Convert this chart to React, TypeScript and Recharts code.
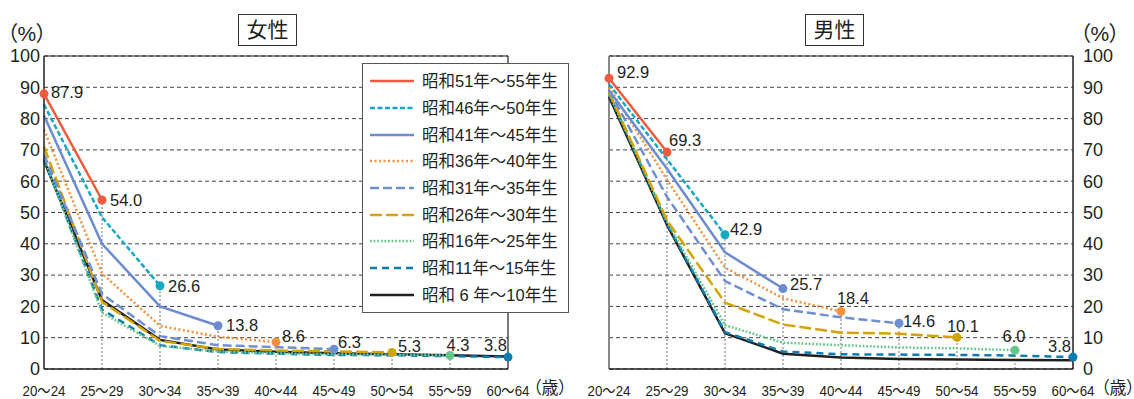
import React from "react";
import { LineChart, Line, XAxis, YAxis, CartesianGrid, ReferenceLine } from "recharts";

// age groups on the x axis
const AGES = ["20〜24", "25〜29", "30〜34", "35〜39", "40〜44", "45〜49", "50〜54", "55〜59", "60〜64"];
const Y_TICKS = [0, 10, 20, 30, 40, 50, 60, 70, 80, 90, 100];

const COHORTS = [
  "昭和51年〜55年生",
  "昭和46年〜50年生",
  "昭和41年〜45年生",
  "昭和36年〜40年生",
  "昭和31年〜35年生",
  "昭和26年〜30年生",
  "昭和16年〜25年生",
  "昭和11年〜15年生",
  "昭和 6 年〜10年生",
];

// 女性 (%)
const femaleS51 = [87.9, 54.0];
const femaleS46 = [84.5, 48.5, 26.6];
const femaleS41 = [81.0, 40.0, 20.0, 13.8];
const femaleS36 = [76.5, 30.5, 13.8, 10.3, 8.6];
const femaleS31 = [68.5, 24.0, 10.5, 7.6, 7.0, 6.3];
const femaleS26 = [71.0, 21.5, 9.0, 6.4, 5.9, 5.6, 5.3];
const femaleS16 = [67.5, 18.0, 7.4, 5.6, 5.0, 4.7, 4.6, 4.3];
const femaleS11 = [67.0, 19.0, 7.6, 5.4, 4.9, 4.5, 4.4, 4.1, 3.8];
const femaleS06 = [66.5, 22.0, 9.3, 6.2, 5.5, 5.0, 4.7, 4.4, 4.0];

// 男性 (%)
const maleS51 = [92.9, 69.3];
const maleS46 = [91.0, 67.0, 42.9];
const maleS41 = [89.0, 64.0, 37.3, 25.7];
const maleS36 = [90.0, 60.5, 32.4, 22.6, 18.4];
const maleS31 = [89.0, 55.0, 28.1, 19.1, 16.5, 14.6];
const maleS26 = [88.5, 47.5, 21.2, 14.2, 11.6, 11.3, 10.1];
const maleS16 = [88.0, 47.0, 14.0, 8.4, 7.6, 6.9, 6.6, 6.0];
const maleS11 = [88.0, 46.5, 11.8, 5.6, 4.7, 4.6, 4.5, 4.3, 3.8];
const maleS06 = [87.0, 46.0, 11.4, 4.9, 3.7, 3.2, 3.0, 2.9, 2.8];

const FEMALE = [femaleS51, femaleS46, femaleS41, femaleS36, femaleS31, femaleS26, femaleS16, femaleS11, femaleS06];
const MALE = [maleS51, maleS46, maleS41, maleS36, maleS31, maleS26, maleS16, maleS11, maleS06];

const STYLES = [
  { color: "#ef5b3e", dash: undefined },
  { color: "#17a8c2", dash: "5 2.5" },
  { color: "#6d8cd0", dash: undefined },
  { color: "#f7913d", dash: "2 2.5" },
  { color: "#6f8fd3", dash: "9 4" },
  { color: "#d1a400", dash: "12 4" },
  { color: "#66c78a", dash: "1.8 1.8" },
  { color: "#0d7db0", dash: "7 5" },
  { color: "#231f20", dash: undefined },
];

// where the value label sits relative to its marker
type Place = { dx: number; dy: number; anchor: "start" | "middle" | "end" };
const FEMALE_START: Place = { dx: 7, dy: -2, anchor: "start" };
const FEMALE_END: Place[] = [
  { dx: 8, dy: 0, anchor: "start" },
  { dx: 8, dy: 0, anchor: "start" },
  { dx: 8, dy: -1, anchor: "start" },
  { dx: 6, dy: -6, anchor: "start" },
  { dx: 4, dy: -7, anchor: "start" },
  { dx: 6, dy: -6, anchor: "start" },
  { dx: 8, dy: -10, anchor: "middle" },
  { dx: -1, dy: -12, anchor: "end" },
];
const MALE_START: Place = { dx: 8, dy: -6, anchor: "start" };
const MALE_END: Place[] = [
  { dx: 2, dy: -12, anchor: "start" },
  { dx: 5, dy: -6, anchor: "start" },
  { dx: 7, dy: -4, anchor: "start" },
  { dx: 12, dy: -13, anchor: "middle" },
  { dx: 4, dy: -2, anchor: "start" },
  { dx: 6, dy: -11, anchor: "middle" },
  { dx: -1, dy: -14, anchor: "middle" },
  { dx: -2, dy: -11, anchor: "end" },
];

const FONT = '"Liberation Sans", "Noto Sans CJK JP", sans-serif';
const INK = "#231f20";

const buildRows = (series: number[][]) =>
  AGES.map((age, i) => {
    const row: any = { age };
    series.forEach((vals, k) => {
      if (i < vals.length) row[`s${k}`] = vals[i];
    });
    return row;
  });

const AgeTick = (props: any) => {
  const { x, y, payload } = props;
  return (
    <text x={x} y={y + 25} textAnchor="middle" fontSize={15} fill={INK} fontFamily={FONT} textLength={43} lengthAdjust="spacingAndGlyphs">
      {payload.value}
    </text>
  );
};

interface PanelProps {
  series: number[][];
  side: "left" | "right";
  startPlace: Place;
  endPlace: Place[];
}

const Panel: React.FC<PanelProps> = ({ series, side, startPlace, endPlace }) => {
  const rows = buildRows(series);
  const isLeft = side === "left";
  const order = series.map((_, k) => k).reverse(); // black first, red on top

  return (
    <LineChart
      width={isLeft ? 580 : 564}
      height={399}
      data={rows}
      margin={isLeft ? { top: 56, right: 72, bottom: 0, left: 0 } : { top: 56, right: 0, bottom: 0, left: 39 }}
    >
      <CartesianGrid vertical={false} stroke="#444" strokeDasharray="4 3" />
      <XAxis
        dataKey="age"
        interval={0}
        tickLine={false}
        tickSize={0}
        axisLine={{ stroke: INK, strokeWidth: 1.5 }}
        tick={<AgeTick />}
        height={30}
      />
      <YAxis
        orientation={side}
        domain={[0, 100]}
        ticks={Y_TICKS}
        interval={0}
        width={isLeft ? 44 : 61}
        tickLine={false}
        tickSize={0}
        tickMargin={isLeft ? 4 : 10}
        axisLine={{ stroke: INK, strokeWidth: 1.5 }}
        tick={{ fontSize: 18, fill: INK, fontFamily: FONT }}
      />
      <ReferenceLine y={100} stroke={INK} strokeWidth={1.2} />
      {isLeft ? (
        <ReferenceLine x={AGES[AGES.length - 1]} stroke={INK} strokeWidth={1.2} />
      ) : (
        <ReferenceLine x={AGES[0]} stroke="#888" strokeWidth={2} />
      )}
      {series.slice(0, 8).map((vals, k) => (
        <ReferenceLine
          key={`drop-${k}`}
          segment={[
            { x: AGES[vals.length - 1], y: 0 },
            { x: AGES[vals.length - 1], y: vals[vals.length - 1] },
          ]}
          stroke="#777"
          strokeDasharray="2 2"
        />
      ))}
      {order.map((k) => {
        const last = series[k].length - 1;
        const st = STYLES[k];
        return (
          <Line
            key={`s${k}`}
            type="linear"
            dataKey={`s${k}`}
            stroke={st.color}
            strokeWidth={2.5}
            strokeDasharray={st.dash}
            isAnimationActive={false}
            activeDot={false}
            connectNulls={false}
            dot={(p: any) => {
              const { cx, cy, index } = p;
              const show = k < 8 && (index === last || (k === 0 && index === 0));
              if (!show || cx == null) return <g key={`d${k}-${index}`} />;
              return <circle key={`d${k}-${index}`} cx={cx} cy={cy} r={4.5} fill={st.color} stroke="none" />;
            }}
            label={(p: any) => {
              const { x, y, value, index } = p;
              let pos: Place | null = null;
              if (k < 8 && index === last) pos = endPlace[k];
              else if (k === 0 && index === 0) pos = startPlace;
              if (!pos || value == null) return <g key={`l${k}-${index}`} />;
              return (
                <text
                  key={`l${k}-${index}`}
                  x={x + pos.dx}
                  y={y + pos.dy}
                  dy="0.36em"
                  textAnchor={pos.anchor}
                  fontSize={16.5}
                  fill={INK}
                  fontFamily={FONT}
                >
                  {Number(value).toFixed(1)}
                </text>
              );
            }}
          />
        );
      })}
    </LineChart>
  );
};

const LegendBox: React.FC = () => (
  <div
    style={{
      position: "absolute",
      left: 362,
      top: 63,
      width: 207,
      height: 250,
      boxSizing: "border-box",
      border: "1px solid #555",
      background: "#fff",
      paddingTop: 4,
    }}
  >
    {COHORTS.map((name, k) => (
      <div key={name} style={{ display: "flex", alignItems: "center", height: 26.7 }}>
        <svg width={44} height={10} style={{ marginLeft: 7, flex: "none" }}>
          <line x1={0} y1={5} x2={44} y2={5} stroke={STYLES[k].color} strokeWidth={2.5} strokeDasharray={STYLES[k].dash} />
        </svg>
        <span style={{ marginLeft: 8, fontSize: 16.5, color: INK, whiteSpace: "pre", lineHeight: "20px" }}>{name}</span>
      </div>
    ))}
  </div>
);

const Title: React.FC<{ text: string; left: number }> = ({ text, left }) => (
  <div
    style={{
      position: "absolute",
      left,
      top: 14,
      width: 59,
      height: 32,
      boxSizing: "border-box",
      border: "1px solid #333",
      fontSize: 21,
      lineHeight: "30px",
      textAlign: "center",
      color: INK,
    }}
  >
    {text}
  </div>
);

const Note: React.FC<{ text: string; left: number; top: number; size: number }> = ({ text, left, top, size }) => (
  <div
    style={{
      position: "absolute",
      left,
      top,
      fontSize: size,
      lineHeight: "22px",
      color: INK,
      whiteSpace: "nowrap",
      fontFeatureSettings: '"palt"',
    }}
  >
    {text}
  </div>
);

export default function App() {
  return (
    <div
      style={{
        position: "absolute",
        left: 0,
        top: 0,
        width: 1134,
        height: 399,
        overflow: "hidden",
        background: "#fff",
        fontFamily: FONT,
      }}
    >
      <div style={{ position: "absolute", left: 0, top: 0 }}>
        <Panel series={FEMALE} side="left" startPlace={FEMALE_START} endPlace={FEMALE_END} />
      </div>
      <div style={{ position: "absolute", left: 570, top: 0 }}>
        <Panel series={MALE} side="right" startPlace={MALE_START} endPlace={MALE_END} />
      </div>
      <Title text="女性" left={238} />
      <Title text="男性" left={805} />
      <Note text="（%）" left={7} top={23} size={21} />
      <Note text="（%）" left={1080} top={23} size={21} />
      <Note text="（歳）" left={533} top={378} size={17} />
      <Note text="（歳）" left={1101} top={378} size={17} />
      <LegendBox />
    </div>
  );
}
